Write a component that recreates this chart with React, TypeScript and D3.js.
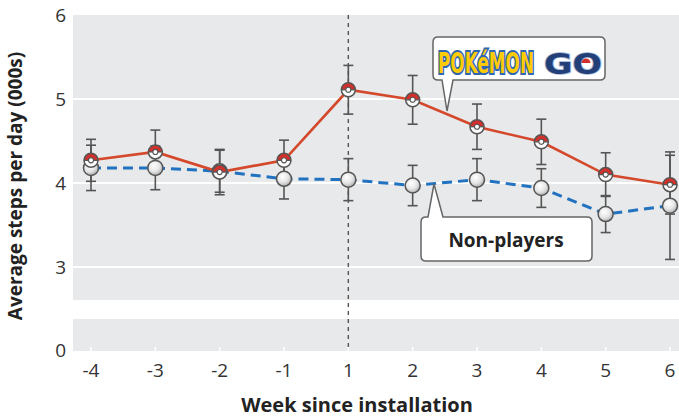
import React from "react";
import * as d3 from "d3";

// Weekly mean steps (thousands) with 95% error half-widths
const weeks = ["-4", "-3", "-2", "-1", "1", "2", "3", "4", "5", "6"];
const playerMean = [4.27, 4.37, 4.13, 4.27, 5.11, 4.99, 4.67, 4.49, 4.1, 3.98];
const playerErr = [0.25, 0.26, 0.27, 0.24, 0.29, 0.29, 0.27, 0.27, 0.26, 0.35];
const nonPlayerMean = [4.18, 4.18, 4.14, 4.05, 4.04, 3.97, 4.04, 3.94, 3.63, 3.73];
const nonPlayerErr = [0.27, 0.26, 0.25, 0.24, 0.25, 0.24, 0.25, 0.23, 0.22, 0.64];
const yTicks = [3, 4, 5, 6];
const installWeek = "1";

const W = 679;
const H = 417;
const FONT = "'Open Sans', 'DejaVu Sans', sans-serif";
const BG = "#e8e9ea";
const RED = "#d4482c";
const BLUE = "#2172c0";
const INK = "#555";

const plotLeft = 73;
const plotRight = 679;
const upperTop = 15;
const upperBottom = 300;
const lowerTop = 319;
const lowerBottom = 351;

const x = d3.scalePoint<string>().domain(weeks).range([91, 670]);
const y = d3.scaleLinear().domain([3, 6]).range([267, 15]);

function calloutPath(
  x0: number, y0: number, x1: number, y1: number, r: number,
  side: "top" | "bottom", bx0: number, bx1: number, tx: number, ty: number
) {
  const p = d3.path();
  p.moveTo(x0 + r, y0);
  if (side === "top") {
    p.lineTo(bx0, y0);
    p.lineTo(tx, ty);
    p.lineTo(bx1, y0);
  }
  p.lineTo(x1 - r, y0);
  p.quadraticCurveTo(x1, y0, x1, y0 + r);
  p.lineTo(x1, y1 - r);
  p.quadraticCurveTo(x1, y1, x1 - r, y1);
  if (side === "bottom") {
    p.lineTo(bx1, y1);
    p.lineTo(tx, ty);
    p.lineTo(bx0, y1);
  }
  p.lineTo(x0 + r, y1);
  p.quadraticCurveTo(x0, y1, x0, y1 - r);
  p.lineTo(x0, y0 + r);
  p.quadraticCurveTo(x0, y0, x0 + r, y0);
  p.closePath();
  return p.toString();
}

function ErrorBars({ mean, err }: { mean: number[]; err: number[] }) {
  return (
    <g stroke={INK} strokeWidth={1.6} fill="none">
      {weeks.map((w, i) => {
        const cx = x(w)!;
        const top = y(mean[i] + err[i]);
        const bot = y(mean[i] - err[i]);
        return (
          <g key={w}>
            <line x1={cx} x2={cx} y1={top} y2={bot} />
            <line x1={cx - 5} x2={cx + 5} y1={top} y2={top} />
            <line x1={cx - 5} x2={cx + 5} y1={bot} y2={bot} />
          </g>
        );
      })}
    </g>
  );
}

const halfArc = (r: number, a0: number) =>
  d3.arc()({ innerRadius: 0, outerRadius: r, startAngle: a0, endAngle: a0 + Math.PI }) || "";

function PokeBall({ cx, cy, r }: { cx: number; cy: number; r: number }) {
  return (
    <g transform={`translate(${cx},${cy})`}>
      <circle r={r} fill="#fafafa" />
      <path d={halfArc(r, -Math.PI / 2)} fill="#d3302c" />
      <line x1={-r} x2={r} y1={0} y2={0} stroke={INK} strokeWidth={1.3} />
      <circle r={r} fill="none" stroke={INK} strokeWidth={1.5} />
      <circle r={r * 0.36} fill="#fff" stroke={INK} strokeWidth={1.1} />
    </g>
  );
}

export default function App() {
  const playerLine = d3
    .line<number>()
    .x((_, i) => x(weeks[i])!)
    .y((d) => y(d))(playerMean) || "";
  const nonPlayerLine = d3
    .line<number>()
    .x((_, i) => x(weeks[i])!)
    .y((d) => y(d))(nonPlayerMean) || "";

  const ix = x(installWeek)!;

  return (
    <svg
      width={W}
      height={H}
      viewBox={`0 0 ${W} ${H}`}
      style={{ position: "absolute", left: 0, top: 0, background: "#fff" }}
      fontFamily={FONT}
    >
      <defs>
        <radialGradient id="sphere" cx="0.4" cy="0.35" r="0.7">
          <stop offset="0" stopColor="#ffffff" />
          <stop offset="0.55" stopColor="#e6e6e6" />
          <stop offset="1" stopColor="#a9a9a9" />
        </radialGradient>
      </defs>

      {/* panel background with axis break */}
      <rect x={plotLeft} y={upperTop} width={plotRight - plotLeft} height={upperBottom - upperTop} fill={BG} />
      <rect x={plotLeft} y={lowerTop} width={plotRight - plotLeft} height={lowerBottom - lowerTop} fill={BG} />

      {/* gridlines */}
      {yTicks.filter((t) => t < 6).map((t) => (
        <line key={t} x1={plotLeft} x2={plotRight} y1={y(t)} y2={y(t)} stroke="#fff" strokeWidth={2} />
      ))}

      {/* x ticks */}
      {weeks.map((w) => (
        <line key={w} x1={x(w)!} x2={x(w)!} y1={lowerBottom - 4} y2={lowerBottom + 2} stroke="#fff" strokeWidth={1.5} />
      ))}

      {/* install marker */}
      <line x1={ix} x2={ix} y1={upperTop} y2={lowerBottom} stroke={INK} strokeWidth={1.4} strokeDasharray="4,4" />

      {/* y tick labels */}
      <g fontSize={19} fill="#333" textAnchor="end">
        {yTicks.map((t) => (
          <text key={t} x={66} y={y(t)} dy="0.35em">{t}</text>
        ))}
        <text x={66} y={lowerBottom - 1} dy="0.35em">0</text>
      </g>

      {/* x tick labels */}
      <g fontSize={19} fill="#333" textAnchor="middle">
        {weeks.map((w) => (
          <text key={w} x={x(w)!} y={370} dy="0.35em">{w}</text>
        ))}
      </g>

      {/* axis titles */}
      <text x={357} y={405} dy="0.35em" textAnchor="middle" fontSize={20} fontWeight={700} fill="#222">
        Week since installation
      </text>
      <text
        transform={`translate(22,186) rotate(-90)`}
        textAnchor="middle"
        fontSize={19}
        fontWeight={700}
        fill="#222"
      >
        Average steps per day (000s)
      </text>

      {/* non-players */}
      <path d={nonPlayerLine} fill="none" stroke={BLUE} strokeWidth={3} strokeDasharray="10,6" />
      <ErrorBars mean={nonPlayerMean} err={nonPlayerErr} />

      {/* players */}
      <path d={playerLine} fill="none" stroke={RED} strokeWidth={2.6} />
      <ErrorBars mean={playerMean} err={playerErr} />

      {nonPlayerMean.map((v, i) => (
        <circle key={weeks[i]} cx={x(weeks[i])!} cy={y(v)} r={7.5} fill="url(#sphere)" stroke={INK} strokeWidth={1.5} />
      ))}
      {playerMean.map((v, i) => (
        <PokeBall key={weeks[i]} cx={x(weeks[i])!} cy={y(v)} r={7} />
      ))}

      {/* Pokémon GO callout */}
      <path
        d={calloutPath(433, 37, 605, 80, 5, "bottom", 442, 453, 447, 111)}
        fill="#fff"
        stroke="#666"
        strokeWidth={1.5}
      />
      <g transform="translate(438,73) scale(1,1.85)">
        <text
          x={0}
          y={0}
          fontFamily="'DejaVu Sans', sans-serif"
          fontSize={15}
          fontWeight={700}
          fill="#ffcb05"
          stroke="#2f66b0"
          strokeWidth={2.2}
          paintOrder="stroke"
          textLength={96}
          lengthAdjust="spacingAndGlyphs"
        >
          POKéMON
        </text>
      </g>
      <g transform="translate(544,74) scale(1,1.4)">
        <text
          x={0}
          y={0}
          fontFamily="'DejaVu Sans', sans-serif"
          fontSize={20}
          fontWeight={700}
          fill="#233f78"
          stroke="#9fb4d6"
          strokeWidth={1.2}
          paintOrder="stroke"
          textLength={58}
          lengthAdjust="spacingAndGlyphs"
        >
          GO
        </text>
      </g>
      <g transform="translate(586,63)">
        <path d={halfArc(4.5, -Math.PI / 2)} fill="#d3302c" />
        <path d={halfArc(4.5, Math.PI / 2)} fill="#fff" />
      </g>

      {/* Non-players callout */}
      <path
        d={calloutPath(421, 217, 592, 261, 5, "top", 428, 443, 434, 184)}
        fill="#fff"
        stroke="#666"
        strokeWidth={1.5}
      />
      <text x={506} y={240} dy="0.35em" textAnchor="middle" fontSize={19} fontWeight={700} fill="#222">
        Non-players
      </text>
    </svg>
  );
}
